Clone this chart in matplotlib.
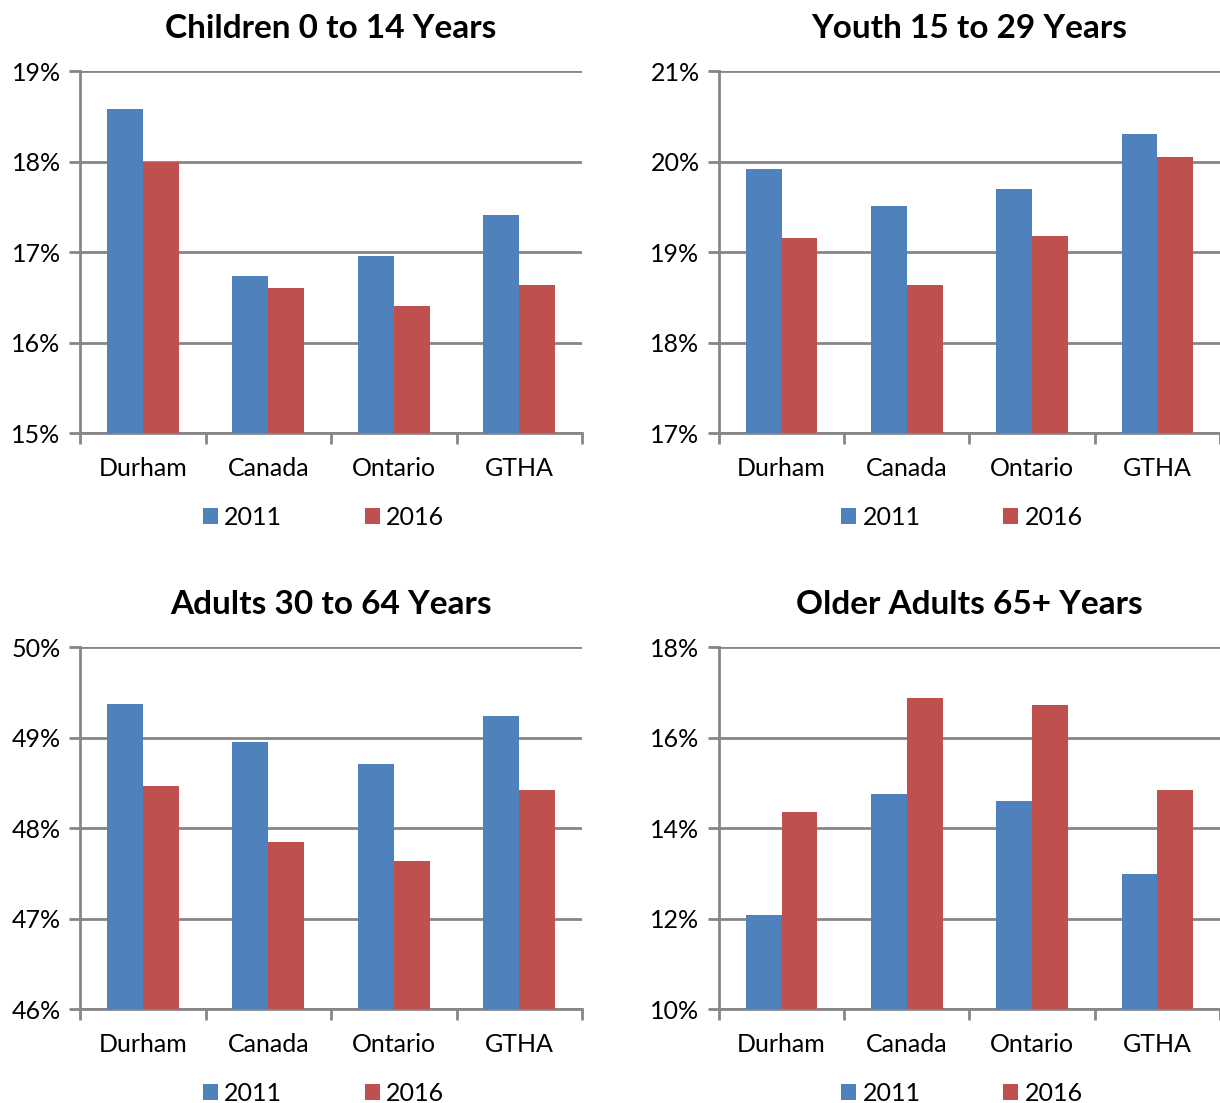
import numpy as np
import matplotlib
matplotlib.use("Agg")
import matplotlib.pyplot as plt
from matplotlib.ticker import FuncFormatter

plt.rcParams['font.family'] = ['Lato', 'DejaVu Sans']

regions = ["Durham", "Canada", "Ontario", "GTHA"]
years = ["2011", "2016"]

children_2011 = [18.58, 16.74, 16.96, 17.41]
children_2016 = [17.99, 16.60, 16.40, 16.64]
youth_2011 = [19.92, 19.51, 19.70, 20.30]
youth_2016 = [19.15, 18.64, 19.18, 20.05]
adults_2011 = [49.37, 48.95, 48.71, 49.24]
adults_2016 = [48.46, 47.85, 47.64, 48.42]
older_2011 = [12.08, 14.75, 14.60, 12.98]
older_2016 = [14.35, 16.87, 16.72, 14.83]

blue = "#4F81BD"
red = "#C0504D"
grid_col = "#868686"

panels = [
    ("Children 0 to 14 Years", children_2011, children_2016, (15, 19), 1),
    ("Youth 15 to 29 Years", youth_2011, youth_2016, (17, 21), 1),
    ("Adults 30 to 64 Years", adults_2011, adults_2016, (46, 50), 1),
    ("Older Adults 65+ Years", older_2011, older_2016, (10, 18), 2),
]

# axes positions in figure fractions
positions = [
    [0.0656, 0.6074, 0.4115, 0.3282],
    [0.5893, 0.6074, 0.4107, 0.3282],
    [0.0656, 0.0852, 0.4115, 0.3282],
    [0.5893, 0.0852, 0.4107, 0.3282],
]

fig = plt.figure(figsize=(12.2, 11.03), dpi=100)

x = np.arange(len(regions))
w = 1 / 3.5

for (title, v11, v16, ylim, step), pos in zip(panels, positions):
    ax = fig.add_axes(pos)
    ax.bar(x - w / 2, v11, w, color=blue, label=years[0], zorder=3)
    ax.bar(x + w / 2, v16, w, color=red, label=years[1], zorder=3)
    ax.set_ylim(*ylim)
    ax.set_xlim(-0.5, len(regions) - 0.5)
    ax.set_yticks(np.arange(ylim[0], ylim[1] + 0.01, step))
    ax.yaxis.set_major_formatter(FuncFormatter(lambda v, p: f"{v:.0f}%"))
    ax.yaxis.grid(True, color=grid_col, linewidth=2, zorder=0)
    ax.set_axisbelow(True)

    # category labels between boundary ticks
    ax.set_xticks(np.arange(-0.5, len(regions), 1))
    ax.set_xticklabels([])
    ax.set_xticks(x, minor=True)
    ax.set_xticklabels(regions, minor=True)
    ax.tick_params(axis='x', which='minor', length=0, pad=17, labelsize=18)
    ax.tick_params(axis='x', which='major', length=8, width=2, color=grid_col, direction='out')
    ax.tick_params(axis='y', length=8, width=2, color=grid_col, labelsize=18, pad=6)

    for s in ['top', 'right']:
        ax.spines[s].set_visible(False)
    for s in ['left', 'bottom']:
        ax.spines[s].set_color(grid_col)
        ax.spines[s].set_linewidth(2)

    ax.set_title(title, fontsize=24, fontweight='bold', pad=24)
    ax.legend(loc='upper center', bbox_to_anchor=(0.485, -0.16), ncol=2, frameon=False,
              fontsize=18, handlelength=0.6, handleheight=0.6, handletextpad=0.25,
              columnspacing=3.3, borderaxespad=0.2)

fig.savefig("out.png", dpi=100)
